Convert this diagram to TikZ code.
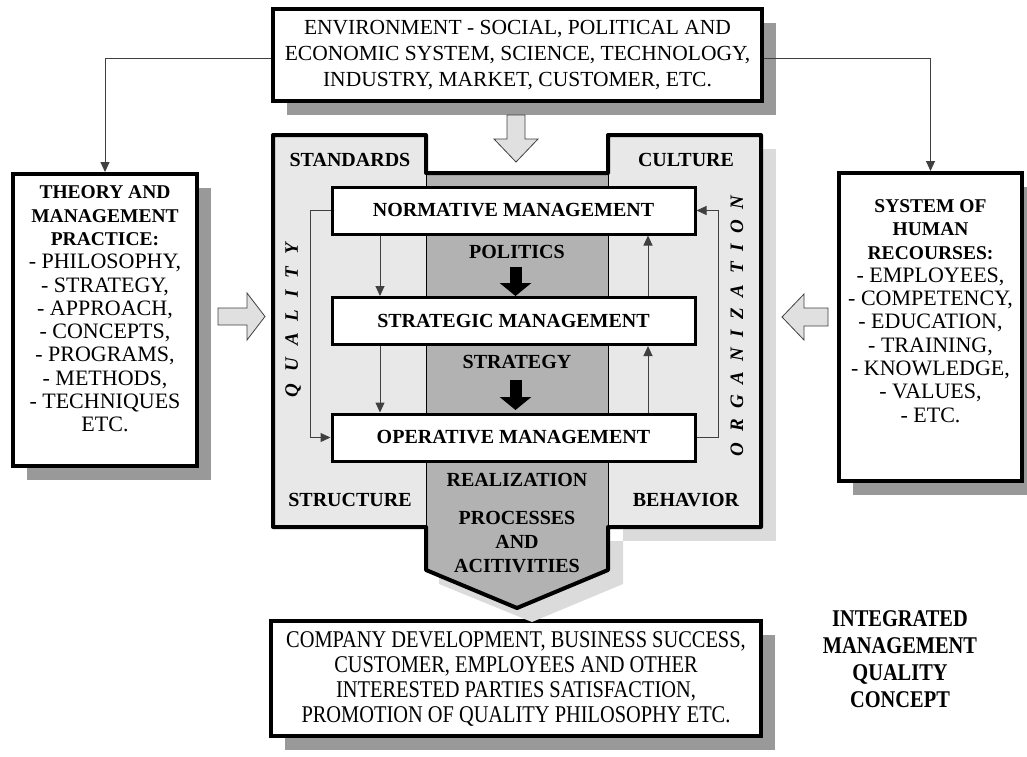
\documentclass[tikz,border=0pt]{standalone}
\usepackage{fontspec}
\setmainfont{Liberation Serif}
\newfontfamily\condfont[FakeStretch=0.85]{Liberation Serif}
\usetikzlibrary{arrows.meta,shadows}
\newcommand\hd[1]{{\bfseries\fontsize{19.5}{23.3}\selectfont #1}}
\begin{document}
\begin{tikzpicture}[x=1pt,y=-1pt,
  bigbox/.style={draw, line width=4pt, fill=white,
    drop shadow={shadow xshift=14pt, shadow yshift=-14pt, fill=black!40, opacity=1}},
  mgmt/.style={draw, line width=3pt, fill=white, minimum width=363pt, minimum height=47pt,
    font=\bfseries\fontsize{20}{24}\selectfont},
  lbl/.style={font=\bfseries\fontsize{20}{24}\selectfont, align=center},
  sidetxt/.style={align=center, font=\fontsize{22}{23.3}\selectfont},
  conn/.style={line width=1pt, draw=black!75},
  tip/.style={-{Triangle[length=10pt,width=9pt]}},
  hollow/.style={draw=black!75, line width=0.8pt, fill=black!12},
  bigarrow/.style={line width=12pt, -{Triangle[length=13pt,width=31pt]}},
  vert/.style={rotate=90, font=\bfseries\itshape\fontsize{19}{19}\selectfont},
]
\useasboundingbox (0,0) rectangle (1027,756);

% outer boxes
\node[bigbox, minimum width=489pt, minimum height=92pt, align=center,
  font=\fontsize{21.5}{26}\selectfont] (env) at (517.5,55)
  {ENVIRONMENT - SOCIAL, POLITICAL AND\\ECONOMIC SYSTEM, SCIENCE, TECHNOLOGY,\\INDUSTRY, MARKET, CUSTOMER, ETC.};

\node[bigbox, minimum width=184pt, minimum height=292pt] (theory) at (105,320) {};
\node[sidetxt] (theorytxt) at (105,309)
  {\hd{THEORY AND}\\\hd{MANAGEMENT}\\\hd{PRACTICE:}\\- PHILOSOPHY,\\- STRATEGY,\\- APPROACH,\\- CONCEPTS,\\- PROGRAMS,\\- METHODS,\\- TECHNIQUES\\ETC.};

\node[bigbox, minimum width=183pt, minimum height=308pt] (hr) at (930.5,327) {};
\node[sidetxt] (hrtxt) at (930.5,311)
  {\hd{SYSTEM OF}\\\hd{HUMAN}\\\hd{RECOURSES:}\\- EMPLOYEES,\\- COMPETENCY,\\- EDUCATION,\\- TRAINING,\\- KNOWLEDGE,\\- VALUES,\\- ETC.};

\node[bigbox, minimum width=490pt, minimum height=115pt, align=center,
  font=\condfont\fontsize{24}{25}\selectfont] (result) at (516,678.5)
  {COMPANY DEVELOPMENT, BUSINESS SUCCESS,\\CUSTOMER, EMPLOYEES AND OTHER\\INTERESTED PARTIES SATISFACTION,\\PROMOTION OF QUALITY PHILOSOPHY ETC.};

% central panel shadow
\fill[black!14] (623,149) rectangle (776,541);
\fill[black!14] (608,541) -- (623,541) -- (623,584) -- (532,622) -- (439,584) -- (439,541) -- cycle;
% central panel
\fill[black!9] (273,135) -- (426,135) -- (426,173) -- (608,173) -- (608,135) -- (761,135)
  -- (761,527) -- (608,527) -- (608,570) -- (517,608) -- (426,570) -- (426,527) -- (273,527) -- cycle;
\fill[black!30] (426,173) -- (608,173) -- (608,570) -- (517,608) -- (426,570) -- cycle;
\draw[line width=0.8pt] (426,173) -- (426,527) (608,173) -- (608,527);
\draw[line width=4pt, line join=round] (273,135) -- (426,135) -- (426,173) -- (608,173) -- (608,135) -- (761,135)
  -- (761,527) -- (608,527) -- (608,570) -- (517,608) -- (426,570) -- (426,527) -- (273,527) -- cycle;

% management boxes
\node[mgmt] (norm) at (513.5,210.5) {NORMATIVE MANAGEMENT};
\node[mgmt] (strat) at (513.5,321) {STRATEGIC MANAGEMENT};
\node[mgmt] (oper) at (513.5,437.5) {OPERATIVE MANAGEMENT};

% labels
\node[lbl] (standards) at (350,160) {STANDARDS};
\node[lbl] (culture) at (686,160) {CULTURE};
\node[lbl] (structure) at (350,500) {STRUCTURE};
\node[lbl] (behavior) at (686,500) {BEHAVIOR};
\node[lbl] (politics) at (517,252) {POLITICS};
\node[lbl] (strategy) at (517,362) {STRATEGY};
\node[lbl] (realization) at (517,480) {REALIZATION};
\node[lbl] (processes) at (517,542) {PROCESSES\\AND\\ACITIVITIES};

\node[vert] (quality) at (293,320)
  {Q\hspace{12pt}U\hspace{12pt}A\hspace{12pt}L\hspace{12pt}I\hspace{12pt}T\hspace{12pt}Y};
\node[vert] (organization) at (737,326)
  {O\hspace{10.5pt}R\hspace{10.5pt}G\hspace{10.5pt}A\hspace{10.5pt}N\hspace{10.5pt}I\hspace{10.5pt}Z\hspace{10.5pt}A\hspace{10.5pt}T\hspace{10.5pt}I\hspace{10.5pt}O\hspace{10.5pt}N};

% black arrows
\coordinate (pa) at (515.5,267);
\coordinate (pb) at (515.5,296);
\coordinate (sa) at (515.5,380);
\coordinate (sb) at (515.5,410);
\draw[bigarrow] (pa) -- (pb);
\draw[bigarrow] (sa) -- (sb);

% hollow arrows
\draw[hollow] (507,115) -- (525,115) -- (525,139) -- (538,139) -- (516,162) -- (494,139) -- (507,139) -- cycle;
\draw[hollow] (218,308) -- (247,308) -- (247,293) -- (265,316.5) -- (247,340) -- (247,325) -- (218,325) -- cycle;
\draw[hollow] (828,308) -- (804,308) -- (804,294) -- (782,317) -- (804,340) -- (804,326) -- (828,326) -- cycle;

% connectors
\draw[conn, tip] ([yshift=-3pt]env.west) -| (theory.north);
\draw[conn, tip] ([yshift=-3pt]env.east) -| (hr.north);
\draw[conn, tip] (norm.west) -- ++(-20,0) |- (oper.west);
\draw[conn, tip] (oper.east) -- ++(22,0) |- (norm.east);
\draw[conn, tip] ([xshift=-133.5pt]norm.south) -- ([xshift=-133.5pt]strat.north);
\draw[conn, tip] ([xshift=-133.5pt]strat.south) -- ([xshift=-133.5pt]oper.north);
\draw[conn, tip] ([xshift=134.5pt]oper.north) -- ([xshift=134.5pt]strat.south);
\draw[conn, tip] ([xshift=134.5pt]strat.north) -- ([xshift=134.5pt]norm.south);

% title
\node[align=center, font=\condfont\bfseries\fontsize{24}{27}\selectfont] (title) at (900,659)
  {INTEGRATED\\MANAGEMENT\\QUALITY\\CONCEPT};
\end{tikzpicture}
\end{document}
